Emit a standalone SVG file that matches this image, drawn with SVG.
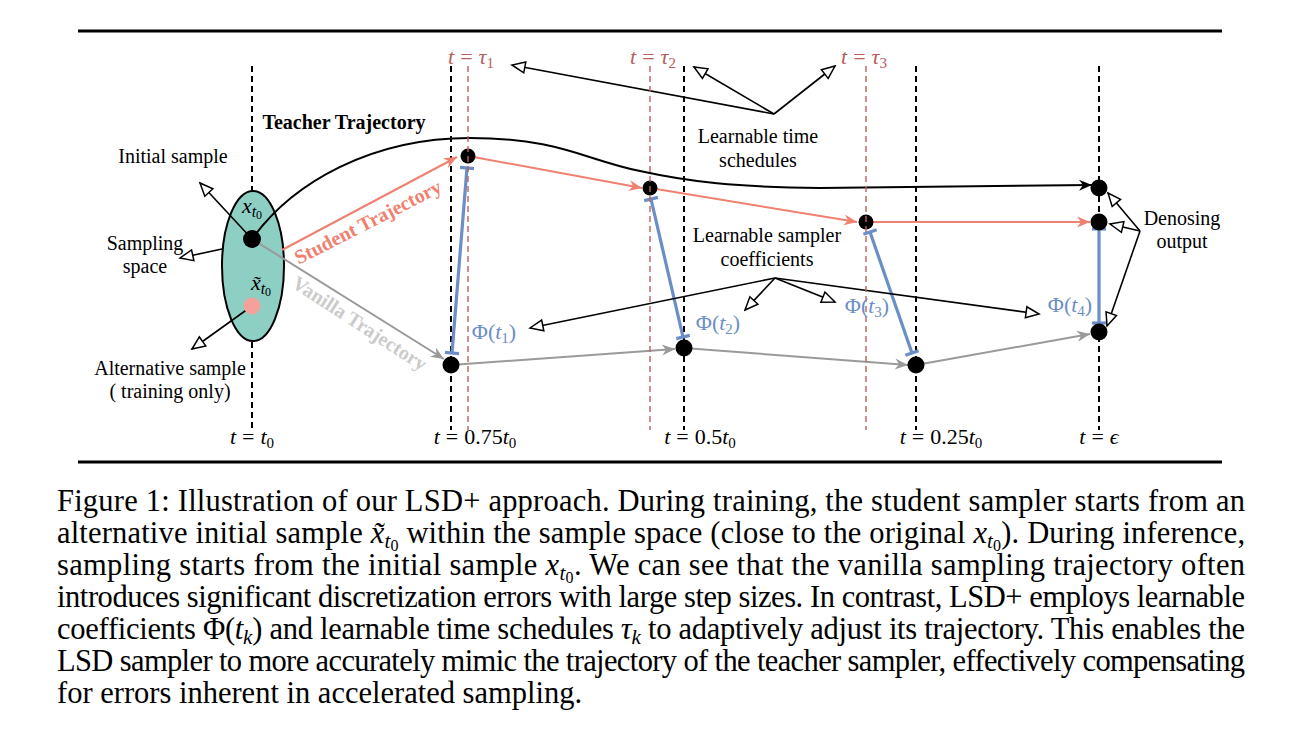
<svg xmlns="http://www.w3.org/2000/svg" width="1298" height="746" viewBox="0 0 1298 746">
<style>
.lbl{font-family:'Liberation Serif','Times New Roman',Times,'DejaVu Serif',serif;font-size:20px;fill:#000}
.m{font-family:'Liberation Serif','Times New Roman',Times,'DejaVu Serif',serif;font-size:22px;fill:#000}
.bold{font-weight:bold}
.it{font-style:italic}
.cap{font-family:'Liberation Serif','Times New Roman',Times,'DejaVu Serif',serif;font-size:30.5px;fill:#000}
.tau{fill:#b85c5c}
.phi{fill:#6b8ec6}
.kd{stroke:#000;stroke-width:2;stroke-dasharray:6 4;fill:none}
.rd{stroke:#c06060;stroke-width:1.4;stroke-dasharray:6 4;fill:none}
.ann{stroke:#000;stroke-width:1.6;fill:none;marker-end:url(#open)}
.stu{stroke:#f08070;stroke-width:2;fill:none;marker-end:url(#stR)}
.van{stroke:#9a9a9a;stroke-width:2;fill:none;marker-end:url(#stG)}
.blu{stroke:#6b8ec6;stroke-width:3.2;fill:none;marker-start:url(#tee);marker-end:url(#tee)}
.dot{fill:#000}
</style>
<defs>
<marker id="stK" markerUnits="userSpaceOnUse" viewBox="-14 -7 15 14" refX="0" refY="0" markerWidth="15" markerHeight="14" orient="auto"><path d="M0,0 L-13,-5.5 L-9,0 L-13,5.5 z" fill="#000"/></marker>
<marker id="stR" markerUnits="userSpaceOnUse" viewBox="-14 -7 15 14" refX="0" refY="0" markerWidth="15" markerHeight="14" orient="auto"><path d="M0,0 L-13,-5.5 L-9,0 L-13,5.5 z" fill="#f08070"/></marker>
<marker id="stG" markerUnits="userSpaceOnUse" viewBox="-14 -7 15 14" refX="0" refY="0" markerWidth="15" markerHeight="14" orient="auto"><path d="M0,0 L-13,-5.5 L-9,0 L-13,5.5 z" fill="#9a9a9a"/></marker>
<marker id="open" markerUnits="userSpaceOnUse" viewBox="-16 -8 18 16" refX="0" refY="0" markerWidth="18" markerHeight="16" orient="auto"><path d="M0,0 L-13,-5.5 L-13,5.5 z" fill="#fff" stroke="#000" stroke-width="1.5" stroke-linejoin="miter"/></marker>
<marker id="tee" markerUnits="userSpaceOnUse" viewBox="-3 -8 6 16" refX="0" refY="0" markerWidth="6" markerHeight="16" orient="auto"><path d="M0,-7 L0,7" stroke="#6b8ec6" stroke-width="3.2"/></marker>
</defs>
<rect width="1298" height="746" fill="#fff"/>

<g id="rules">
<line x1="78" y1="31" x2="1222" y2="31" stroke="#000" stroke-width="3"/>
<line x1="78" y1="462" x2="1222" y2="462" stroke="#000" stroke-width="3"/>
</g>

<g id="time-axes">
<line class="kd" x1="252" y1="66" x2="252" y2="190"/>
<line class="kd" x1="252" y1="342" x2="252" y2="430"/>
<line class="kd" x1="451" y1="66" x2="451" y2="430"/>
<line class="kd" x1="684" y1="66" x2="684" y2="430"/>
<line class="kd" x1="916" y1="66" x2="916" y2="430"/>
<line class="kd" x1="1099" y1="66" x2="1099" y2="430"/>
</g>

<g id="sample-space">
<ellipse cx="253" cy="266" rx="31" ry="75" fill="#8ecfc4" stroke="#000" stroke-width="2"/>
</g>

<g id="connectors">
<path d="M252,239 C293,182 372,138 470,138 C560,138 585,160 640,171 C690,182 735,187 820,188 L1092,185" stroke="#000" stroke-width="2" fill="none" marker-end="url(#stK)"/>
<line class="stu" x1="282" y1="250" x2="457" y2="157"/>
<line class="stu" x1="468" y1="156" x2="642" y2="188"/>
<line class="stu" x1="650" y1="188" x2="857" y2="222"/>
<line class="stu" x1="866" y1="222" x2="1090" y2="222"/>
<line class="van" x1="252" y1="239" x2="444" y2="359"/>
<line class="van" x1="451" y1="365" x2="675" y2="349"/>
<line class="van" x1="684" y1="348" x2="908" y2="365"/>
<line class="van" x1="916" y1="365" x2="1090" y2="334"/>
<line class="blu" x1="467" y1="168" x2="452" y2="353"/>
<line class="blu" x1="651" y1="199" x2="683" y2="337"/>
<line class="blu" x1="870" y1="232" x2="912" y2="353"/>
<line class="blu" x1="1099" y1="229" x2="1099" y2="323"/>
<line class="ann" x1="252" y1="239" x2="200" y2="183"/>
<line class="ann" x1="222" y1="249" x2="180" y2="258"/>
<line class="ann" x1="252" y1="306" x2="192" y2="349"/>
<line class="ann" x1="774" y1="114" x2="512" y2="65"/>
<line class="ann" x1="774" y1="114" x2="694" y2="67"/>
<line class="ann" x1="774" y1="114" x2="835" y2="66"/>
<line class="ann" x1="775" y1="278" x2="530" y2="328"/>
<line class="ann" x1="775" y1="278" x2="745" y2="310"/>
<line class="ann" x1="775" y1="278" x2="835" y2="302"/>
<line class="ann" x1="775" y1="278" x2="1039" y2="314"/>
<line class="ann" x1="1140" y1="231" x2="1108" y2="193"/>
<line class="ann" x1="1140" y1="231" x2="1110" y2="224"/>
<line class="ann" x1="1140" y1="231" x2="1107" y2="326"/>
</g>

<g id="nodes">
<g id="x-t0"><circle class="dot" cx="252" cy="239" r="9"/></g>
<g id="x-tilde-t0"><circle cx="252" cy="306" r="8.5" fill="#f4a19c"/></g>
<g id="s-tau1"><circle class="dot" cx="468" cy="156" r="7.5"/></g>
<g id="s-tau2"><circle class="dot" cx="650" cy="188" r="7.5"/></g>
<g id="s-tau3"><circle class="dot" cx="866" cy="222" r="7.5"/></g>
<g id="v-075"><circle class="dot" cx="451" cy="365" r="8.5"/></g>
<g id="v-05"><circle class="dot" cx="684" cy="348" r="8.5"/></g>
<g id="v-025"><circle class="dot" cx="916" cy="365" r="8.5"/></g>
<g id="out-teacher"><circle class="dot" cx="1099" cy="188" r="8.5"/></g>
<g id="out-student"><circle class="dot" cx="1099" cy="222" r="8.5"/></g>
<g id="out-vanilla"><circle class="dot" cx="1099" cy="332" r="8.5"/></g>
</g>

<g id="tau-axes">
<line class="rd" x1="468" y1="66" x2="468" y2="430"/>
<line class="rd" x1="650" y1="66" x2="650" y2="430"/>
<line class="rd" x1="866" y1="66" x2="866" y2="430"/>
</g>

<g id="labels">
<text class="m tau" x="471" y="64" text-anchor="middle"><tspan class="it">t</tspan><tspan dx="6">=</tspan><tspan class="it" dx="6">τ</tspan><tspan font-size="15" baseline-shift="-4">1</tspan></text>
<text class="m tau" x="653" y="64" text-anchor="middle"><tspan class="it">t</tspan><tspan dx="6">=</tspan><tspan class="it" dx="6">τ</tspan><tspan font-size="15" baseline-shift="-4">2</tspan></text>
<text class="m tau" x="864" y="64" text-anchor="middle"><tspan class="it">t</tspan><tspan dx="6">=</tspan><tspan class="it" dx="6">τ</tspan><tspan font-size="15" baseline-shift="-4">3</tspan></text>

<text class="lbl bold" x="344" y="129" text-anchor="middle">Teacher Trajectory</text>
<text class="lbl" x="173" y="163" text-anchor="middle">Initial sample</text>
<text class="lbl" x="145" y="250" text-anchor="middle">Sampling</text>
<text class="lbl" x="145" y="273" text-anchor="middle">space</text>
<text class="lbl" x="170" y="375" text-anchor="middle">Alternative sample</text>
<text class="lbl" x="170" y="398" text-anchor="middle">( training only)</text>

<text class="m" x="252" y="213" text-anchor="middle"><tspan class="it">x</tspan><tspan class="it" font-size="16" baseline-shift="-4">t<tspan font-style="normal" font-size="12" baseline-shift="-2">0</tspan></tspan></text>
<text class="m" x="261" y="290" text-anchor="middle"><tspan class="it">x̃</tspan><tspan class="it" font-size="16" baseline-shift="-4">t<tspan font-style="normal" font-size="12" baseline-shift="-2">0</tspan></tspan></text>

<text class="lbl bold" x="371" y="228" text-anchor="middle" transform="rotate(-27 371 228)" style="fill:#f08070">Student Trajectory</text>
<text class="lbl bold" x="356" y="329" text-anchor="middle" transform="rotate(33 356 329)" style="fill:#cbcbcb">Vanilla Trajectory</text>

<text class="lbl" x="758" y="143" text-anchor="middle">Learnable time</text>
<text class="lbl" x="758" y="167" text-anchor="middle">schedules</text>
<text class="lbl" x="767" y="242" text-anchor="middle">Learnable sampler</text>
<text class="lbl" x="767" y="266" text-anchor="middle">coefficients</text>
<text class="lbl" x="1182" y="225" text-anchor="middle">Denosing</text>
<text class="lbl" x="1182" y="248" text-anchor="middle">output</text>

<text class="m phi" x="494" y="339" text-anchor="middle">Φ(<tspan class="it">t</tspan><tspan font-size="15" baseline-shift="-4">1</tspan>)</text>
<text class="m phi" x="718" y="330" text-anchor="middle">Φ(<tspan class="it">t</tspan><tspan font-size="15" baseline-shift="-4">2</tspan>)</text>
<text class="m phi" x="867" y="313" text-anchor="middle">Φ(<tspan class="it">t</tspan><tspan font-size="15" baseline-shift="-4">3</tspan>)</text>
<text class="m phi" x="1070" y="312" text-anchor="middle">Φ(<tspan class="it">t</tspan><tspan font-size="15" baseline-shift="-4">4</tspan>)</text>

<text class="m" x="252" y="444" text-anchor="middle"><tspan class="it">t</tspan><tspan dx="6">=</tspan><tspan class="it" dx="6">t</tspan><tspan font-size="15" baseline-shift="-4">0</tspan></text>
<text class="m" x="475" y="444" text-anchor="middle"><tspan class="it">t</tspan><tspan dx="6">=</tspan><tspan dx="6">0.75</tspan><tspan class="it">t</tspan><tspan font-size="15" baseline-shift="-4">0</tspan></text>
<text class="m" x="700" y="444" text-anchor="middle"><tspan class="it">t</tspan><tspan dx="6">=</tspan><tspan dx="6">0.5</tspan><tspan class="it">t</tspan><tspan font-size="15" baseline-shift="-4">0</tspan></text>
<text class="m" x="941" y="444" text-anchor="middle"><tspan class="it">t</tspan><tspan dx="6">=</tspan><tspan dx="6">0.25</tspan><tspan class="it">t</tspan><tspan font-size="15" baseline-shift="-4">0</tspan></text>
<text class="m" x="1099" y="444" text-anchor="middle"><tspan class="it">t</tspan><tspan dx="6">=</tspan><tspan class="it" dx="6">ϵ</tspan></text>
</g>

<g id="caption">
<text class="cap" x="57" y="511" textLength="1188" lengthAdjust="spacing">Figure 1: Illustration of our LSD+ approach. During training, the student sampler starts from an</text>
<text class="cap" x="57" y="543" textLength="1188" lengthAdjust="spacing">alternative initial sample <tspan class="it">x̃</tspan><tspan class="it" font-size="21" baseline-shift="-5">t<tspan font-style="normal" font-size="16" baseline-shift="-3">0</tspan></tspan> within the sample space (close to the original <tspan class="it">x</tspan><tspan class="it" font-size="21" baseline-shift="-5">t<tspan font-style="normal" font-size="16" baseline-shift="-3">0</tspan></tspan>). During inference,</text>
<text class="cap" x="57" y="575" textLength="1188" lengthAdjust="spacing">sampling starts from the initial sample <tspan class="it">x</tspan><tspan class="it" font-size="21" baseline-shift="-5">t<tspan font-style="normal" font-size="16" baseline-shift="-3">0</tspan></tspan>. We can see that the vanilla sampling trajectory often</text>
<text class="cap" x="57" y="607" textLength="1188" lengthAdjust="spacing">introduces significant discretization errors with large step sizes. In contrast, LSD+ employs learnable</text>
<text class="cap" x="57" y="639" textLength="1188" lengthAdjust="spacing">coefficients Φ(<tspan class="it">t</tspan><tspan class="it" font-size="21" baseline-shift="-5">k</tspan>) and learnable time schedules <tspan class="it">τ</tspan><tspan class="it" font-size="21" baseline-shift="-5">k</tspan> to adaptively adjust its trajectory. This enables the</text>
<text class="cap" x="57" y="671" textLength="1188" lengthAdjust="spacing">LSD sampler to more accurately mimic the trajectory of the teacher sampler, effectively compensating</text>
<text class="cap" x="57" y="703">for errors inherent in accelerated sampling.</text>
</g>
</svg>
